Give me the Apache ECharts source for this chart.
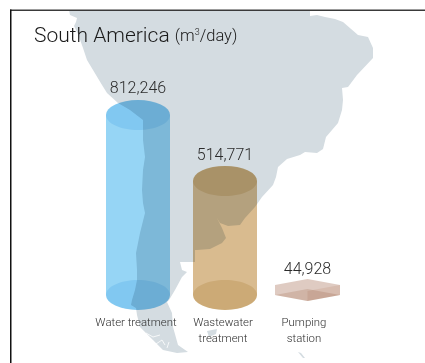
<!DOCTYPE html>
<html>
<head>
<meta charset="utf-8">
<style>html,body{margin:0;padding:0;background:#fff}#c{width:425px;height:363px}</style>
<script src="https://cdn.jsdelivr.net/npm/echarts@6/dist/echarts.min.js"></script>
</head>
<body>
<div id="c"></div>
<script>
// ---- data ----
var categories = ['Water treatment', 'Wastewater\ntreatment', 'Pumping\nstation'];
var values = [812246, 514771, 44928];
var shapes = ['cylinder', 'cylinder', 'box'];
// ---- backdrop silhouette of the continent (decoration, not data) ----
var continent = [[69,10],[70,15],[77,18],[76,22],[74,26],[78,34],[83,48],[87,60],[93,70],[102,85],[107,93],[118,103],[130,110],[143,120],[143,140],[145,157],[143,170],[142,190],[143,203],[145,213],[140,233],[136,253],[137,270],[137,280],[135,290],[132,300],[131,305],[136,308],[137,315],[140,327],[153,340],[163,350],[177,353],[188,352],[178,345],[173,327],[172,313],[167,302],[169,300],[175,290],[182,277],[187,272],[182,270],[180,262],[195,262],[195,250],[197,250],[210,249],[222,243],[226,238],[222,228],[217,218],[220,223],[228,226],[240,225],[245,218],[255,207],[262,197],[273,185],[276,177],[278,167],[287,159],[300,155],[305,152],[317,153],[323,149],[326,137],[338,123],[342,110],[343,100],[342,88],[348,87],[357,75],[373,58],[373,48],[368,37],[358,35],[343,22],[335,19],[325,17],[317,15],[310,16],[310,10]];
var isleA = [[207,331],[217,329],[216,334],[209,337]];
var isleB = [[298,352],[301,353],[305,358],[303,358]];
var fjords = [[[146,333],[153,337],[160,335]],[[156,344],[162,340],[165,345]],[[169,342],[167,348]]];

var MAP = '#d4dce1', FONT = 'Roboto, "Liberation Sans", sans-serif';
var palette = [
  {body:'#96d5f5', cap:'#dcf0fb'},
  {body:'#d9bb8f', cap:'#f0e8d2'},
  {body:'#dfcbc2', right:'#f6ecE6', low:'#eee2da'}
];
var nudge = [0, 2, -0.5];
var labelGap = [11, 10, 9];

function renderItem(params, api) {
  var i = api.value(0);
  var top = api.coord([i, api.value(1)]);
  var base = api.coord([i, 0]);
  var cx = top[0] + nudge[i], ty = top[1], by = base[1];
  var rx = 32, c = palette[i], kids = [], ry = 15;
  if (shapes[i] === 'cylinder') {
    var d = 'M' + (cx - rx) + ' ' + ty +
      'A' + rx + ' ' + ry + ' 0 0 1 ' + (cx + rx) + ' ' + ty +
      'L' + (cx + rx) + ' ' + by +
      'A' + rx + ' ' + ry + ' 0 0 1 ' + (cx - rx) + ' ' + by + 'Z';
    kids.push({type:'path', shape:{pathData:d, x:cx-rx, y:ty-ry, width:2*rx, height:by-ty+2*ry, layout:'cover'}, style:{fill:c.body}});
    kids.push({type:'ellipse', shape:{cx:cx, cy:ty, rx:rx, ry:ry}, style:{fill:c.cap}});
    kids.push({type:'ellipse', shape:{cx:cx, cy:by, rx:rx, ry:ry}, style:{fill:c.cap}});
  } else {
    ry = 6; var R = 32.5;
    kids.push({type:'polygon', shape:{points:[[cx-R,ty],[cx,ty-ry],[cx+R,ty],[cx+R,by],[cx,by+ry],[cx-R,by]]}, style:{fill:c.body}});
    kids.push({type:'polygon', shape:{points:[[cx,ty+ry],[cx+R,ty],[cx+R,by],[cx,by+ry]]}, style:{fill:c.right}});
    kids.push({type:'polygon', shape:{points:[[cx-R,by],[cx,by-ry],[cx+R,by],[cx,by+ry]]}, style:{fill:c.low}});
  }
  kids.push({type:'text', style:{text: api.value(1).toLocaleString('en-US'), x:cx, y:ty-ry-labelGap[i], align:'center', verticalAlign:'middle', fill:'#2b2b2b', font:'300 16px ' + FONT}});
  return {type:'group', children:kids};
}

var chart = echarts.init(document.getElementById('c'), null, {renderer:'canvas'});
var graphics = [
  {type:'polygon', shape:{points:continent}, style:{fill:MAP}, silent:true},
  {type:'polygon', shape:{points:isleA}, style:{fill:MAP}, silent:true},
  {type:'polygon', shape:{points:isleB}, style:{fill:MAP}, silent:true},
  {type:'rect', shape:{x:10,y:9.5,width:415,height:1.5}, style:{fill:'#3a3a3a'}, z:10, silent:true},
  {type:'rect', shape:{x:10,y:9.5,width:1.5,height:354}, style:{fill:'#111'}, z:10, silent:true}
];
fjords.forEach(function(f){ graphics.push({type:'polyline', shape:{points:f}, style:{stroke:'#fff', lineWidth:0.8, fill:null}, silent:true}); });

chart.setOption({
  animation:false,
  backgroundColor:'#fff',
  title:{
    left:34, top:24, padding:0,
    text:'{main|South America} {unit|(m}{sup|3}{unit|/day)}',
    textStyle:{
      lineHeight:26,
      fontFamily:FONT, fontWeight:300, fontSize:21, color:'#1a1a1a',
      rich:{
        main:{fontFamily:FONT, fontWeight:300, fontSize:21, color:'#1a1a1a', lineHeight:26},
        unit:{fontFamily:FONT, fontWeight:300, fontSize:16.5, color:'#1a1a1a', lineHeight:26},
        sup:{fontFamily:FONT, fontWeight:300, fontSize:9, color:'#1a1a1a', lineHeight:26, padding:[0,0,8,0]}
      }
    }
  },
  grid:{left:95.5, right:74.5, top:7, bottom:68},
  xAxis:{
    type:'category',
    data:[
      {value:categories[0], textStyle:{padding:[0,4,0,0]}},
      {value:categories[1]},
      {value:categories[2], textStyle:{padding:[0,8,0,0]}}
    ],
    axisLine:{show:false}, axisTick:{show:false},
    axisLabel:{interval:0, margin:20, fontFamily:FONT, fontWeight:300, fontSize:11.4, lineHeight:16, color:'#2e2e2e'}
  },
  yAxis:{type:'value', min:0, max:1300000, show:false, splitLine:{show:false}},
  graphic:{elements:graphics},
  series:[{
    type:'custom',
    renderItem:renderItem,
    blendMode:'multiply',
    encode:{x:0, y:1},
    data:categories.map(function(c, i){ return [c, values[i]]; }),
    silent:true
  }]
});
</script>
</body>
</html>
